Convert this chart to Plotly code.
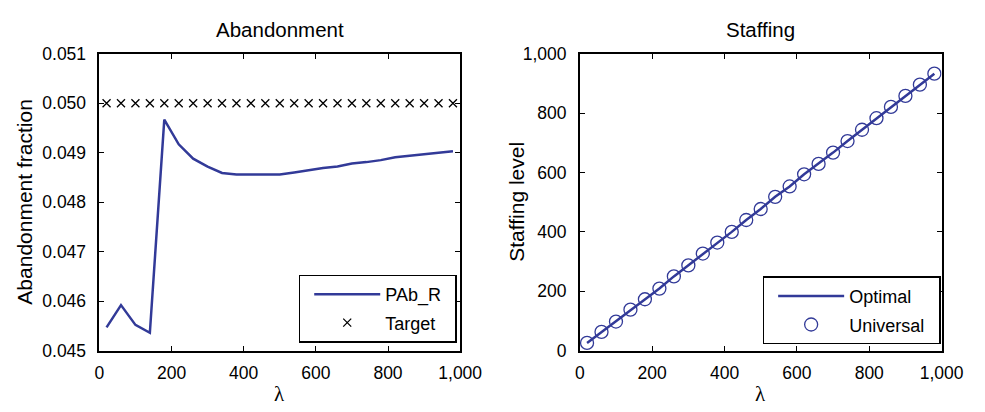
import plotly.graph_objects as go

# Arrival rates and results
lam = [20, 60, 100, 140, 180, 220, 260, 300, 340, 380, 420, 460, 500,
       540, 580, 620, 660, 700, 740, 780, 820, 860, 900, 940, 980]
pab_r = [0.04547, 0.04592, 0.04552, 0.04536, 0.04967, 0.04917, 0.04888,
         0.04872, 0.04859, 0.04856, 0.04856, 0.04856, 0.04856, 0.04860,
         0.04865, 0.04869, 0.04872, 0.04878, 0.04881, 0.04885, 0.04891,
         0.04894, 0.04897, 0.04900, 0.04903]
target = [0.050] * len(lam)
optimal = [26, 63, 98, 138, 173, 209, 250, 287, 327, 364, 400, 440, 477,
           518, 553, 594, 629, 667, 706, 744, 783, 821, 858, 896, 933]
universal = [26, 63, 98, 138, 173, 209, 250, 287, 327, 364, 400, 440, 477,
             518, 553, 594, 629, 667, 706, 744, 783, 821, 858, 896, 933]

BLUE = "#323a98"
FONT = "Liberation Sans, Arial, sans-serif"
SERIF = "Liberation Serif, Times New Roman, serif"
W, H = 985, 412
PAD = "\u2002"  # trailing space widens the legend box on the right

fig = go.Figure()

fig.add_trace(go.Scatter(x=lam, y=pab_r, mode="lines", name="PAb_R" + PAD,
                         line=dict(color=BLUE, width=2.5),
                         xaxis="x", yaxis="y", legend="legend", legendgroup="a"))
fig.add_trace(go.Scatter(x=lam, y=target, mode="markers", name="Target" + PAD,
                         marker=dict(symbol="x-thin", size=8,
                                     line=dict(color="black", width=1.3)),
                         xaxis="x", yaxis="y", legend="legend", legendgroup="b"))
fig.add_trace(go.Scatter(x=lam, y=optimal, mode="lines", name="Optimal" + PAD,
                         line=dict(color=BLUE, width=2.5),
                         xaxis="x2", yaxis="y2", legend="legend2", legendgroup="c"))
fig.add_trace(go.Scatter(x=lam, y=universal, mode="markers", name="Universal" + PAD,
                         marker=dict(symbol="circle-open", size=13, color=BLUE,
                                     line=dict(color=BLUE, width=1.3)),
                         xaxis="x2", yaxis="y2", legend="legend2", legendgroup="d"))

axis_style = dict(showline=True, linecolor="black", linewidth=1.5,
                  mirror="ticks", ticks="inside", ticklen=5, tickwidth=1.2,
                  tickcolor="black", showgrid=False, zeroline=False,
                  tickfont=dict(family=FONT, size=17.5, color="black"))

y_top = 1 - 46 / H
y_bot = 1 - 358 / H

legend_style = dict(xanchor="left", yanchor="top",
                    bordercolor="black", borderwidth=1.5, bgcolor="white",
                    font=dict(family=FONT, size=18, color="black"),
                    itemwidth=66, indentation=9, tracegroupgap=2)

fig.update_layout(
    width=W, height=H,
    margin=dict(l=0, r=0, t=0, b=0),
    paper_bgcolor="white", plot_bgcolor="white",
    font=dict(family=FONT, color="black"),
    xaxis=dict(domain=[97 / W, 468 / W], range=[0, 1000], dtick=200,
               tickformat=",d", anchor="y", ticklabelstandoff=6, **axis_style),
    yaxis=dict(domain=[y_bot, y_top], range=[0.045, 0.051], dtick=0.001,
               tickformat=".3f", anchor="x", ticklabelstandoff=8, **axis_style),
    xaxis2=dict(domain=[591 / W, 963 / W], range=[0, 1000], dtick=200,
                tickformat=",d", anchor="y2", ticklabelstandoff=6, **axis_style),
    yaxis2=dict(domain=[y_bot, y_top], range=[0, 1000], dtick=200,
                tickformat=",d", anchor="x2", ticklabelstandoff=8, **axis_style),
    legend=dict(x=302 / W, y=1 - 278 / H, **legend_style),
    legend2=dict(x=779 / W, y=1 - 280 / H, **legend_style),
    showlegend=True,
)

# Panel titles and axis labels
ann = [
    dict(text="Abandonment", x=283 / W, y=1 - 20 / H, size=20.5, family=FONT, angle=0),
    dict(text="Staffing", x=777 / W, y=1 - 20 / H, size=20.5, family=FONT, angle=0),
    dict(text="Abandonment fraction", x=20 / W, y=1 - 202 / H, size=21, family=FONT, angle=-90),
    dict(text="Staffing level", x=526 / W, y=1 - 202 / H, size=21, family=FONT, angle=-90),
    dict(text="λ", x=282 / W, y=1 - 404 / H, size=21, family=SERIF, angle=0),
    dict(text="λ", x=777 / W, y=1 - 404 / H, size=21, family=SERIF, angle=0),
]
for a in ann:
    fig.add_annotation(text=a["text"], x=a["x"], y=a["y"], xref="paper", yref="paper",
                       xanchor="center", yanchor="middle", showarrow=False,
                       textangle=a["angle"],
                       font=dict(family=a["family"], size=a["size"], color="black"))

fig.write_html("out.html")
